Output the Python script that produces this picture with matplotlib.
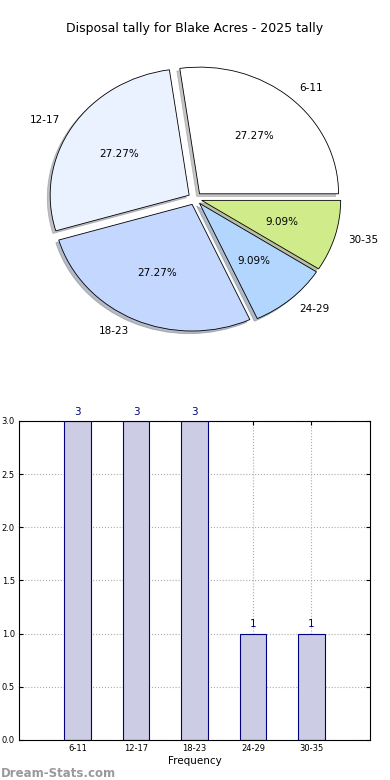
import numpy as np
import matplotlib
matplotlib.use('Agg')
import matplotlib.pyplot as plt

groups = ['6-11', '12-17', '18-23', '24-29', '30-35']
counts = [3, 3, 3, 1, 1]
pie_colors = ['#FFFFFF', '#EAF1FF', '#C4D8FF', '#B3D6FF', '#CFEB8A']
title = 'Disposal tally for Blake Acres - 2025 tally'

fig = plt.figure(figsize=(3.9, 7.8), dpi=100)

# pie on top
ax1 = fig.add_axes([0.0545, 0.5424, 0.891, 0.406])
wedges, texts, autotexts = ax1.pie(counts, labels=groups, colors=pie_colors,
                                   explode=[0.05] * len(counts), autopct='%1.2f%%',
                                   shadow={'ox': -0.015, 'oy': -0.015, 'shade': 0.45},
                                   startangle=0,
                                   wedgeprops={'edgecolor': 'black', 'linewidth': 0.6},
                                   textprops={'fontsize': 7.5})
ax1.set_aspect('auto')
ax1.set_xlim(-1.25, 1.25)
ax1.set_ylim(-1.25, 1.25)
ax1.set_title(title, fontsize=9, pad=6)

# bar chart below
ax2 = fig.add_axes([0.0487, 0.0513, 0.9, 0.409])
x = np.arange(len(groups))
ax2.bar(x, counts, width=0.45, color='#CCCCE4', edgecolor='#000080', linewidth=0.8, zorder=2)
for xi, c in zip(x, counts):
    ax2.text(xi, c + 0.04, str(c), ha='center', va='bottom', color='#000080', fontsize=7.5)
ax2.set_xlim(-1, 5)
ax2.set_ylim(0, 3)
ax2.set_xticks(x)
ax2.set_xticklabels(groups)
ax2.set_yticks(np.arange(0, 3.01, 0.5))
ax2.set_yticklabels(['%.1f' % v for v in np.arange(0, 3.01, 0.5)])
ax2.tick_params(labelsize=6, direction='in', top=True, right=True, length=3, pad=3)
ax2.grid(True, linestyle=':', color='#aaaaaa', linewidth=0.8, zorder=0)
ax2.set_axisbelow(True)
ax2.set_xlabel('Frequency', fontsize=7.5, labelpad=2)

fig.text(0.002, 0.004, 'Dream-Stats.com', fontsize=8.5, color='#999999', fontweight='bold')

fig.savefig('out.png', dpi=100)
